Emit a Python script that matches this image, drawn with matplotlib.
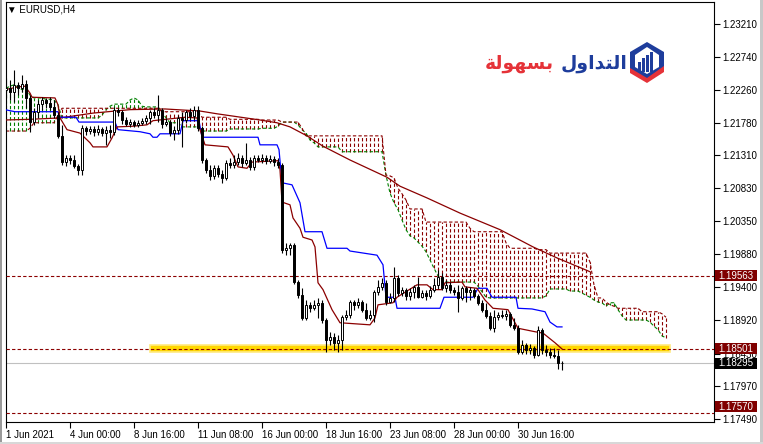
import numpy as np
import matplotlib.pyplot as plt
from matplotlib.patches import Rectangle, Polygon
from matplotlib.transforms import blended_transform_factory

plt.rcParams['font.family'] = ['Liberation Sans', 'DejaVu Sans']

# EURUSD H4, bar 0 = 1 Jun 2021 00:00
opens = [1.2226, 1.2228, 1.2223, 1.2233, 1.2228, 1.2234, 1.2214, 1.2179, 1.2194, 1.2205,
         1.2211, 1.2207, 1.2201, 1.2189, 1.2159, 1.2121, 1.2127, 1.2124, 1.2115, 1.2110,
         1.2170, 1.2166, 1.2169, 1.2165, 1.2169, 1.2163, 1.2168, 1.2165, 1.2197, 1.2194,
         1.2182, 1.2176, 1.2179, 1.2175, 1.2178, 1.2181, 1.2185, 1.2194, 1.2189, 1.2197,
         1.2176, 1.2179, 1.2163, 1.2168, 1.2185, 1.2182, 1.2194, 1.2188, 1.2197, 1.2170,
         1.2124, 1.2110, 1.2101, 1.2112, 1.2104, 1.2098, 1.2120, 1.2117, 1.2121, 1.2127,
         1.2120, 1.2124, 1.2114, 1.2127, 1.2124, 1.2127, 1.2123, 1.2125, 1.2121, 1.2117,
         1.1994, 1.1996, 1.2001, 1.1947, 1.1928, 1.1895, 1.1914, 1.1909, 1.1914, 1.1917,
         1.1892, 1.1863, 1.1867, 1.1859, 1.1863, 1.1896, 1.1899, 1.1918, 1.1914, 1.1918,
         1.1907, 1.1895, 1.1899, 1.1933, 1.1940, 1.1946, 1.1918, 1.1924, 1.1953, 1.1931,
         1.1936, 1.1927, 1.1933, 1.1940, 1.1925, 1.1931, 1.1927, 1.1936, 1.1943, 1.1954,
         1.1938, 1.1943, 1.1936, 1.1933, 1.1924, 1.1938, 1.1933, 1.1936, 1.1927, 1.1917,
         1.1907, 1.1898, 1.1880, 1.1896, 1.1899, 1.1898, 1.1901, 1.1885, 1.1880, 1.1846,
         1.1856, 1.1849, 1.1851, 1.1841, 1.1878, 1.1849, 1.1846, 1.1841, 1.1840, 1.1829]
highs = [1.2243, 1.2240, 1.2255, 1.2237, 1.2247, 1.2240, 1.2218, 1.2199, 1.2211, 1.2215,
         1.2214, 1.2215, 1.2211, 1.2194, 1.2175, 1.2131, 1.2131, 1.2131, 1.2118, 1.2175,
         1.2173, 1.2173, 1.2173, 1.2175, 1.2172, 1.2173, 1.2175, 1.2201, 1.2199, 1.2197,
         1.2186, 1.2183, 1.2182, 1.2182, 1.2185, 1.2189, 1.2197, 1.2199, 1.2218, 1.2199,
         1.2185, 1.2182, 1.2173, 1.2189, 1.2194, 1.2197, 1.2199, 1.2202, 1.2202, 1.2173,
         1.2127, 1.2117, 1.2117, 1.2117, 1.2110, 1.2124, 1.2127, 1.2131, 1.2134, 1.2131,
         1.2149, 1.2128, 1.2131, 1.2131, 1.2133, 1.2131, 1.2131, 1.2130, 1.2127, 1.2120,
         1.2004, 1.2004, 1.2004, 1.1950, 1.1938, 1.1921, 1.1918, 1.1921, 1.1924, 1.1921,
         1.1895, 1.1875, 1.1873, 1.1870, 1.1899, 1.1907, 1.1921, 1.1921, 1.1924, 1.1921,
         1.1917, 1.1907, 1.1936, 1.1950, 1.1953, 1.1950, 1.1931, 1.1969, 1.1957, 1.1940,
         1.1938, 1.1938, 1.1943, 1.1954, 1.1936, 1.1936, 1.1941, 1.1953, 1.1965, 1.1960,
         1.1950, 1.1947, 1.1940, 1.1943, 1.1941, 1.1941, 1.1940, 1.1938, 1.1930, 1.1921,
         1.1917, 1.1904, 1.1907, 1.1904, 1.1907, 1.1907, 1.1904, 1.1895, 1.1885, 1.1863,
         1.1859, 1.1857, 1.1854, 1.1883, 1.1880, 1.1856, 1.1851, 1.1851, 1.1849, 1.1833]
lows = [1.2214, 1.2211, 1.2208, 1.2218, 1.2223, 1.2199, 1.2165, 1.2175, 1.2185, 1.2197,
        1.2199, 1.2197, 1.2185, 1.2156, 1.2117, 1.2115, 1.2118, 1.2112, 1.2102, 1.2102,
        1.2160, 1.2162, 1.2159, 1.2160, 1.2159, 1.2146, 1.2156, 1.2160, 1.2188, 1.2176,
        1.2173, 1.2172, 1.2172, 1.2172, 1.2175, 1.2176, 1.2176, 1.2185, 1.2179, 1.2170,
        1.2173, 1.2159, 1.2153, 1.2162, 1.2143, 1.2178, 1.2182, 1.2182, 1.2166, 1.2120,
        1.2105, 1.2095, 1.2096, 1.2099, 1.2091, 1.2095, 1.2112, 1.2112, 1.2117, 1.2114,
        1.2117, 1.2110, 1.2110, 1.2121, 1.2120, 1.2118, 1.2120, 1.2115, 1.2112, 1.1989,
        1.1986, 1.1986, 1.1944, 1.1924, 1.1892, 1.1892, 1.1904, 1.1907, 1.1895, 1.1888,
        1.1846, 1.1856, 1.1849, 1.1846, 1.1849, 1.1892, 1.1895, 1.1907, 1.1909, 1.1904,
        1.1892, 1.1892, 1.1889, 1.1928, 1.1936, 1.1914, 1.1917, 1.1918, 1.1927, 1.1927,
        1.1921, 1.1921, 1.1924, 1.1924, 1.1924, 1.1921, 1.1924, 1.1933, 1.1937, 1.1936,
        1.1933, 1.1931, 1.1928, 1.1904, 1.1921, 1.1918, 1.1921, 1.1924, 1.1914, 1.1904,
        1.1895, 1.1878, 1.1875, 1.1892, 1.1895, 1.1892, 1.1882, 1.1878, 1.1843, 1.1843,
        1.1843, 1.1843, 1.1837, 1.1840, 1.1843, 1.1840, 1.1837, 1.1837, 1.1821, 1.1820]
closes = [1.2228, 1.2223, 1.2233, 1.2228, 1.2234, 1.2214, 1.2179, 1.2194, 1.2205, 1.2211,
          1.2207, 1.2201, 1.2189, 1.2159, 1.2121, 1.2127, 1.2124, 1.2115, 1.2110, 1.2170,
          1.2166, 1.2169, 1.2165, 1.2169, 1.2163, 1.2168, 1.2165, 1.2197, 1.2194, 1.2182,
          1.2176, 1.2179, 1.2175, 1.2178, 1.2181, 1.2185, 1.2194, 1.2189, 1.2197, 1.2176,
          1.2179, 1.2163, 1.2168, 1.2185, 1.2182, 1.2194, 1.2188, 1.2197, 1.2170, 1.2124,
          1.2110, 1.2101, 1.2112, 1.2104, 1.2098, 1.2120, 1.2117, 1.2121, 1.2127, 1.2120,
          1.2124, 1.2114, 1.2127, 1.2124, 1.2127, 1.2123, 1.2125, 1.2121, 1.2117, 1.1994,
          1.1996, 1.2001, 1.1947, 1.1928, 1.1895, 1.1914, 1.1909, 1.1914, 1.1917, 1.1892,
          1.1863, 1.1867, 1.1859, 1.1863, 1.1896, 1.1899, 1.1918, 1.1914, 1.1918, 1.1907,
          1.1895, 1.1899, 1.1933, 1.1940, 1.1946, 1.1918, 1.1924, 1.1953, 1.1931, 1.1936,
          1.1927, 1.1933, 1.1940, 1.1925, 1.1931, 1.1927, 1.1936, 1.1943, 1.1954, 1.1938,
          1.1943, 1.1936, 1.1933, 1.1924, 1.1938, 1.1933, 1.1936, 1.1927, 1.1917, 1.1907,
          1.1898, 1.1880, 1.1896, 1.1899, 1.1898, 1.1901, 1.1885, 1.1880, 1.1846, 1.1856,
          1.1849, 1.1851, 1.1841, 1.1878, 1.1849, 1.1846, 1.1841, 1.1840, 1.1829, 1.18295]

# ichimoku cloud, one value per bar (shifted 26 bars ahead)
span_a = [1.2228, 1.2231, 1.2233, 1.2230, 1.2226, 1.2228, 1.2218, 1.2214, 1.2214, 1.2214,
          1.2212, 1.2212, 1.2211, 1.2204, 1.2185, 1.2185, 1.2185, 1.2185, 1.2185, 1.2185,
          1.2185, 1.2185, 1.2185, 1.2185, 1.2189, 1.2197, 1.2202, 1.2205, 1.2205, 1.2205,
          1.2205, 1.2211, 1.2214, 1.2211, 1.2202, 1.2201, 1.2201, 1.2201, 1.2201, 1.2194,
          1.2185, 1.2178, 1.2178, 1.2178, 1.2172, 1.2172, 1.2172, 1.2172, 1.2172, 1.2166,
          1.2166, 1.2166, 1.2166, 1.2166, 1.2166, 1.2166, 1.2169, 1.2169, 1.2169, 1.2169,
          1.2169, 1.2169, 1.2169, 1.2169, 1.2170, 1.2170, 1.2170, 1.2170, 1.2173, 1.2179,
          1.2179, 1.2179, 1.2179, 1.2175, 1.2168, 1.2163, 1.2153, 1.2149, 1.2143, 1.2143,
          1.2143, 1.2143, 1.2143, 1.2143, 1.2136, 1.2136, 1.2136, 1.2136, 1.2136, 1.2136,
          1.2136, 1.2136, 1.2136, 1.2136, 1.2136, 1.2102, 1.2076, 1.2062, 1.2052, 1.2037,
          1.2023, 1.2014, 1.2011, 1.2005, 1.1999, 1.1991, 1.1979, 1.1967, 1.1956, 1.1951,
          1.1947, 1.1947, 1.1947, 1.1947, 1.1947, 1.1947, 1.1947, 1.1947, 1.1941, 1.1933,
          1.1925, 1.1924, 1.1924, 1.1924, 1.1924, 1.1924, 1.1924, 1.1924, 1.1924, 1.1924,
          1.1924, 1.1924, 1.1924, 1.1924, 1.1924, 1.1927, 1.1937, 1.1937, 1.1937, 1.1937,
          1.1937, 1.1934, 1.1934, 1.1934, 1.1931, 1.1928, 1.1925, 1.1921, 1.1918, 1.1917,
          1.1912, 1.1917, 1.1917, 1.1907, 1.1898, 1.1892, 1.1892, 1.1892, 1.1892, 1.1892,
          1.1892, 1.1889, 1.1883, 1.1878, 1.1869, 1.1866]
span_b = [1.2166, 1.2166, 1.2166, 1.2166, 1.2166, 1.2166, 1.2170, 1.2178, 1.2178, 1.2178,
          1.2178, 1.2178, 1.2178, 1.2189, 1.2199, 1.2199, 1.2199, 1.2199, 1.2199, 1.2199,
          1.2199, 1.2199, 1.2199, 1.2199, 1.2199, 1.2199, 1.2199, 1.2199, 1.2199, 1.2199,
          1.2199, 1.2199, 1.2199, 1.2199, 1.2199, 1.2199, 1.2199, 1.2199, 1.2199, 1.2194,
          1.2194, 1.2194, 1.2194, 1.2194, 1.2194, 1.2194, 1.2194, 1.2194, 1.2194, 1.2186,
          1.2186, 1.2186, 1.2186, 1.2186, 1.2186, 1.2186, 1.2183, 1.2183, 1.2183, 1.2183,
          1.2183, 1.2183, 1.2183, 1.2183, 1.2182, 1.2182, 1.2182, 1.2182, 1.2182, 1.2179,
          1.2179, 1.2179, 1.2179, 1.2179, 1.2170, 1.2159, 1.2159, 1.2159, 1.2159, 1.2159,
          1.2159, 1.2159, 1.2159, 1.2159, 1.2159, 1.2159, 1.2159, 1.2159, 1.2159, 1.2159,
          1.2159, 1.2159, 1.2159, 1.2159, 1.2159, 1.2102, 1.2101, 1.2098, 1.2083, 1.2075,
          1.2066, 1.2053, 1.2053, 1.2053, 1.2053, 1.2034, 1.2034, 1.2034, 1.2034, 1.2034,
          1.2034, 1.2034, 1.2034, 1.2034, 1.2034, 1.2034, 1.2025, 1.2020, 1.2020, 1.2020,
          1.2020, 1.2020, 1.2020, 1.2020, 1.2020, 1.2004, 1.1996, 1.1996, 1.1996, 1.1996,
          1.1996, 1.1996, 1.1996, 1.1994, 1.1994, 1.1994, 1.1989, 1.1989, 1.1989, 1.1989,
          1.1989, 1.1989, 1.1989, 1.1989, 1.1989, 1.1989, 1.1976, 1.1943, 1.1924, 1.1924,
          1.1918, 1.1914, 1.1912, 1.1909, 1.1909, 1.1909, 1.1909, 1.1909, 1.1909, 1.1904,
          1.1904, 1.1904, 1.1904, 1.1904, 1.1901, 1.1896]

# line vertices: (bar position, price)
tenkan_x = [-0.25, 3, 4.75, 6, 6.5, 12.25, 13, 13.5, 15.25, 18.5, 21, 21.75, 25.25, 26.5, 27.75,
            31.75, 35.25, 36.75, 44.75, 47.75, 48.5, 49.75, 55.5, 56.75, 58, 60.25, 61.5, 68,
            68.5, 69, 71, 71.75, 73.5, 74.25, 76.5, 77.25, 78, 79.25, 81.5, 83.5, 91, 92.25,
            93, 96.75, 97.75, 102.75, 105.25, 106.75, 109, 109.75, 114, 114.75, 117.75, 119.75,
            121.75, 125.5, 126.5, 128, 132.25, 134.25, 137.25, 139]
tenkan_y = [1.2226, 1.2230, 1.2231, 1.2221, 1.2215, 1.2214, 1.2204, 1.2185, 1.2168, 1.2163,
            1.2149, 1.2143, 1.2143, 1.2156, 1.2172, 1.2173, 1.2175, 1.2181, 1.2186, 1.2185,
            1.2168, 1.2146, 1.2143, 1.2131, 1.2114, 1.2112, 1.2121, 1.2123, 1.2110, 1.2063,
            1.2059, 1.2040, 1.2025, 1.2012, 1.2008, 1.1998, 1.1946, 1.1936, 1.1907, 1.1888,
            1.1885, 1.1895, 1.1914, 1.1917, 1.1925, 1.1943, 1.1943, 1.1936, 1.1936, 1.1946,
            1.1947, 1.1940, 1.1938, 1.1921, 1.1909, 1.1907, 1.1896, 1.1880, 1.1875, 1.1873,
            1.1859, 1.1850]
kijun_x = [-0.25, 2.25, 13, 13.5, 17.5, 18.25, 27.25, 28, 33.5, 36, 36.75, 37.75, 38.5, 43.5,
           44.25, 48.25, 49, 63, 63.5, 67.75, 68.25, 69, 71.5, 73.5, 74.75, 79, 80.25, 85.25,
           86, 92.75, 94.25, 95, 97.25, 97.75, 108.5, 109.5, 116.75, 118, 120.25, 121.5, 127.5,
           128, 131.5, 134.75, 136, 137.75, 139]
kijun_y = [1.2197, 1.2194, 1.2194, 1.2186, 1.2186, 1.2179, 1.2179, 1.2168, 1.2165, 1.2162,
           1.2157, 1.2157, 1.2162, 1.2162, 1.2181, 1.2181, 1.2157, 1.2157, 1.2146, 1.2146,
           1.2139, 1.2091, 1.2088, 1.2062, 1.2020, 1.2020, 1.1996, 1.1996, 1.1992, 1.1986,
           1.1972, 1.1925, 1.1925, 1.1909, 1.1909, 1.1925, 1.1925, 1.1938, 1.1938, 1.1925,
           1.1925, 1.1909, 1.1908, 1.1904, 1.1889, 1.1882, 1.1882]
ma_x = [-0.25, 6, 13.5, 21.75, 31, 39.75, 48.5, 52.75, 63.5, 67.75, 71, 75.25, 79.25, 86,
        95.25, 98.5, 105.25, 113.5, 123.5, 131.75, 137.75, 146]
ma_y = [1.2182, 1.2183, 1.2185, 1.2192, 1.2197, 1.2198, 1.2195, 1.2191, 1.2182, 1.2178,
        1.2172, 1.2159, 1.2144, 1.2124, 1.2099, 1.2086, 1.2069, 1.2047, 1.2023, 1.1998,
        1.1982, 1.1962]

levels = [1.19563, 1.18501, 1.17570]
bid = 1.18295
price_ticks = [1.23210, 1.22740, 1.22260, 1.21780, 1.21310, 1.20830, 1.20350,
               1.19880, 1.19400, 1.18920, 1.18430, 1.17970, 1.17490]
date_bars = [0, 16, 32, 48, 64, 80, 96, 112, 128]
date_labels = ['1 Jun 2021', '4 Jun 00:00', '8 Jun 16:00', '11 Jun 08:00', '16 Jun 00:00',
               '18 Jun 16:00', '23 Jun 08:00', '28 Jun 00:00', '30 Jun 16:00']
logo_blue = 'ﻝﻭﺍﺪﺘﻟﺍ'   # "التداول" in display order
logo_red = 'ﺔﻟﻮﻬﺴﺑ'     # "بسهولة" in display order

W, H = 763, 444
DR = '#8B0000'
GR = '#008000'


def P(x, y):
    return (x / W, 1 - y / H)


fig = plt.figure(figsize=(W / 100, H / 100), dpi=100)
ax = fig.add_axes([5.5 / W, 1 - 422 / H, (714 - 5.5) / W, 420 / H])
ax.set_xlim(-0.125, 177)
ax.set_ylim(1.17441, 1.23531)

# cloud hatching
sa = np.array(span_a)
sb = np.array(span_b)
cb = np.arange(len(sa))
bull = sa >= sb
ax.vlines(cb[bull], sb[bull], sa[bull], colors=GR, lw=0.8, linestyles=(0, (3, 2)), zorder=2)
ax.vlines(cb[~bull], sa[~bull], sb[~bull], colors=DR, lw=0.8, linestyles=(0, (3, 2)), zorder=2)
ax.plot(cb, sa, color=GR, lw=0.8, ls=(0, (3, 2)), zorder=2)
ax.plot(cb, sb, color=DR, lw=0.8, ls=(0, (3, 2)), zorder=2)

# support band + levels
ax.add_patch(Rectangle((36, 1.18455), 130, 0.0010, facecolor='#FFD700',
                       edgecolor='#FFEA80', lw=1.2, zorder=1))
for v in levels:
    ax.axhline(v, color=DR, lw=0.8, ls=(0, (3, 2)), zorder=3)
ax.axhline(bid, color='#C0C0C0', lw=0.8, zorder=1.5)

ax.plot(ma_x, ma_y, color=DR, lw=0.9, zorder=3)
ax.plot(kijun_x, kijun_y, color='#0000FF', lw=0.9, zorder=3)
ax.plot(tenkan_x, tenkan_y, color=DR, lw=0.9, zorder=3)

# candles
o, h, l, c = (np.array(a) for a in (opens, highs, lows, closes))
x = np.arange(len(c))
up = c >= o
ax.vlines(x, l, h, color='black', lw=0.8, zorder=4)
ax.bar(x, np.maximum(np.abs(c - o), 0.00003), bottom=np.minimum(o, c), width=0.72,
       color=np.where(up, 'white', 'black'), edgecolor='black', lw=0.7, zorder=5)

# axes styling
for s in ax.spines.values():
    s.set_linewidth(0.8)
ax.yaxis.tick_right()
ax.set_yticks(price_ticks)
ax.set_yticklabels([f'{v:.5f}' for v in price_ticks])
ax.set_xticks(date_bars)
ax.set_xticklabels(date_labels)
for lab in ax.get_xticklabels():
    lab.set_ha('left')
ax.tick_params(axis='y', length=4, width=0.8, pad=2, labelsize=7)
ax.tick_params(axis='x', length=4, width=0.8, pad=1.5, labelsize=7)

# price boxes on the right scale
tr = blended_transform_factory(ax.transAxes, ax.transData)
bw = 42 / 708.5
for v, fc in [(levels[0], '#800000'), (levels[1], '#800000'), (bid, 'black'),
              (levels[2], '#800000')]:
    yc = max(v, 1.17441 + 0.0022)
    ax.add_patch(Rectangle((1.0014, yc - 0.0008), bw, 0.0016, transform=tr,
                           facecolor=fc, edgecolor='none', clip_on=False, zorder=6))
    ax.text(1.0014 + bw / 2, yc, f'{v:.5f}', transform=tr, color='white', fontsize=7,
            ha='center', va='center', clip_on=False, zorder=7)

fig.text(*P(7, 9), '▼ EURUSD,H4', fontsize=7, va='center', ha='left')

# logo
fig.patches.append(Polygon([P(647, 42), P(664, 52), P(664, 70), P(647, 80), P(630, 70), P(630, 52)],
                           closed=True, transform=fig.transFigure, facecolor='#1e3d9c'))
fig.patches.append(Polygon([P(647, 47), P(659, 55), P(659, 67), P(647, 74), P(635, 67), P(635, 55)],
                           closed=True, transform=fig.transFigure, facecolor='white'))
for bx, top in [(638, 62), (642, 58), (646, 55), (650, 52)]:
    fig.patches.append(Rectangle(P(bx, 72), 2.5 / W, (72 - top) / H, transform=fig.transFigure,
                                 facecolor='#1e3d9c'))
fig.patches.append(Polygon([P(630, 68), P(647, 78), P(664, 66), P(664, 72), P(647, 83), P(630, 73)],
                           closed=True, transform=fig.transFigure, facecolor='#e53238'))

t_blue = fig.text(*P(627, 69), logo_blue, fontsize=15, fontweight='bold', color='#1e3d9c',
                  family='DejaVu Sans', ha='right', va='baseline')
t_red = fig.text(*P(570, 69), logo_red, fontsize=15, fontweight='bold', color='#e53238',
                 family='DejaVu Sans', ha='right', va='baseline')
rend = fig.canvas.get_renderer()
wb = t_blue.get_window_extent(rend).width
wr = t_red.get_window_extent(rend).width
k = 141 / (wb + wr + 6)
t_blue.set_fontsize(15 * k)
t_red.set_fontsize(15 * k)
wb = t_blue.get_window_extent(rend).width
t_red.set_position(P(627 - wb - 6, 69))

# window frame
fig.patches.append(Rectangle((0, 0), 2 / W, 1, transform=fig.transFigure, facecolor='#9a9a9a'))
fig.patches.append(Rectangle((760 / W, 0), 3 / W, 1, transform=fig.transFigure, facecolor='#c8c8c8'))
fig.patches.append(Rectangle((0, 0), 1, 2 / H, transform=fig.transFigure, facecolor='#d8d8d8'))

fig.savefig('out.png', dpi=100)
